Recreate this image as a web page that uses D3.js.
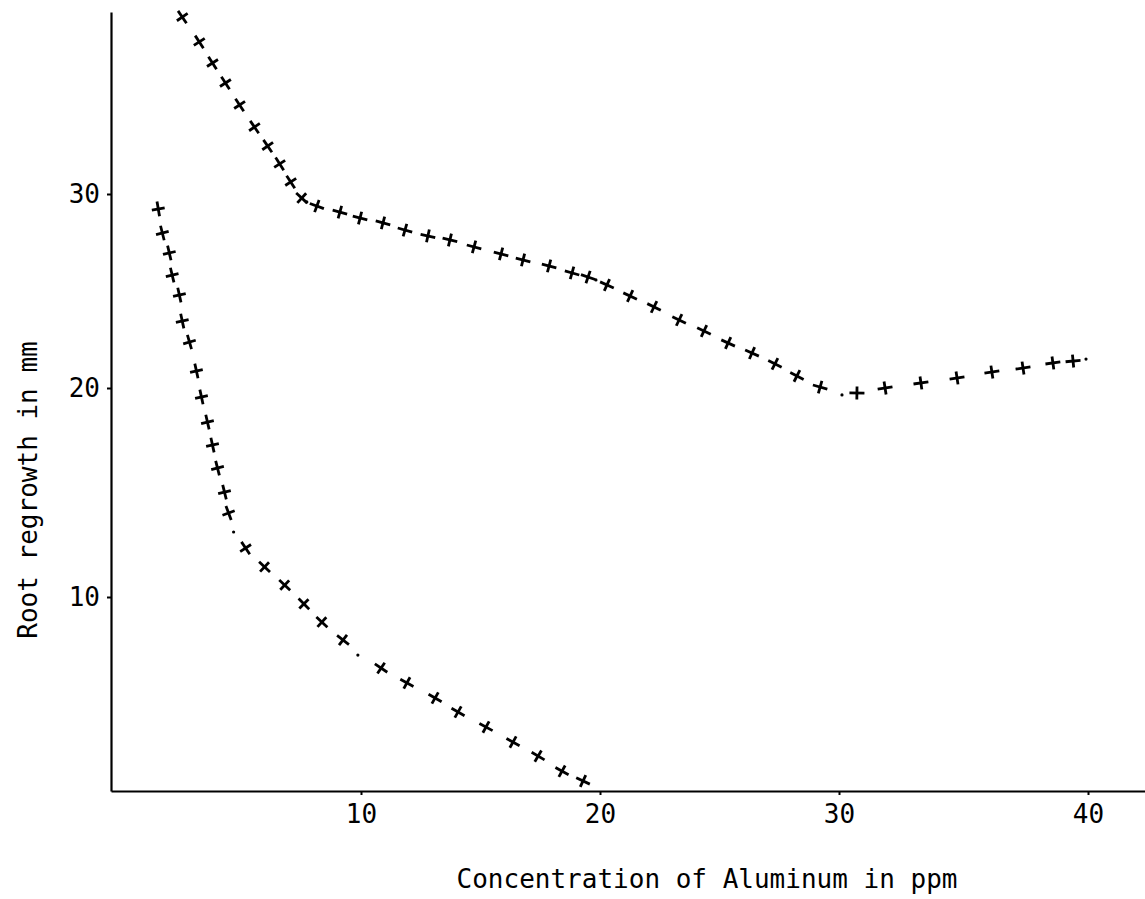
<!DOCTYPE html>
<html>
<head>
<meta charset="utf-8">
<script src="https://cdn.jsdelivr.net/npm/d3@7"></script>
<style>
  html, body { margin: 0; padding: 0; background: #fff; }
  svg { display: block; }
  text { font-family: "DejaVu Sans Mono", monospace; fill: #000; }
</style>
</head>
<body>
<svg id="chart" width="1145" height="899"></svg>
<script>
// ---- data ----
const xTicks = [10, 20, 30, 40];
const yTicks = [10, 20, 30];
const xTitle = "Concentration of Aluminum in ppm";
const yTitle = "Root regrowth in mm";

// upper curve
const upperX = [2.55, 3.26, 3.81, 4.35, 4.94, 5.56, 6.11, 6.61, 7.07, 7.53, 8.16, 9.12, 9.96, 10.92, 11.84, 12.80, 13.72, 14.73, 15.86, 16.78, 17.87, 18.83, 19.50, 20.29, 21.26, 22.26, 23.31, 24.35, 25.36, 26.36, 27.32, 28.24, 29.21, 30.72, 31.85, 33.29, 34.74, 36.14, 37.39, 38.59, 39.40];
const upperY = [39.12, 37.84, 36.75, 35.72, 34.59, 33.45, 32.47, 31.55, 30.62, 29.79, 29.38, 29.07, 28.76, 28.51, 28.14, 27.84, 27.63, 27.27, 26.91, 26.60, 26.29, 25.93, 25.72, 25.31, 24.74, 24.18, 23.51, 22.94, 22.32, 21.80, 21.24, 20.62, 20.05, 19.76, 20.00, 20.26, 20.52, 20.82, 21.03, 21.29, 21.39];

// lower curve
const lowerX = [1.55, 1.72, 2.01, 2.13, 2.43, 2.55, 2.85, 3.14, 3.35, 3.60, 3.81, 4.02, 4.31, 4.48, 5.19, 5.98, 6.82, 7.62, 8.37, 9.25, 10.84, 11.92, 13.10, 14.06, 15.23, 16.36, 17.41, 18.41, 19.29];
const lowerY = [29.23, 27.99, 26.96, 25.82, 24.79, 23.45, 22.37, 20.88, 19.57, 18.37, 17.27, 16.17, 15.02, 14.02, 12.34, 11.44, 10.57, 9.67, 8.80, 7.94, 6.60, 5.89, 5.17, 4.50, 3.78, 3.06, 2.39, 1.67, 1.20];

// stray plotter dots between marks
const dotX = [7.74, 19.83, 30.12, 39.92, 4.69, 9.87];
const dotY = [29.59, 25.57, 19.67, 21.49, 13.11, 7.22];

// axis extents (values at the ends of the drawn axis lines)
const xExtent = [-0.42, 42.29];
const yExtent = [0.72, 39.38];

// ---- drawing ----
const svg = d3.select("#chart");

const x = d3.scaleLinear()
  .domain([xExtent[0], 10, 20, 30, 40, xExtent[1]])
  .range([111, 361, 600, 839, 1088, 1145]);
const y = d3.scaleLinear()
  .domain([yExtent[0], 10, 20, 30, yExtent[1]])
  .range([791, 597, 388, 194, 12]);

const xAxis = d3.axisBottom(x).tickValues(xTicks).tickSize(4).tickSizeOuter(0).tickPadding(10).tickFormat(d3.format("d"));
const yAxis = d3.axisLeft(y).tickValues(yTicks).tickSize(4).tickSizeOuter(0).tickPadding(7).tickFormat(d3.format("d"));

const gx = svg.append("g").attr("transform", `translate(0,${y(yExtent[0])})`).call(xAxis);
const gy = svg.append("g").attr("transform", `translate(${x(xExtent[0])},0)`).call(yAxis);

[gx, gy].forEach(g => {
  g.select(".domain").attr("stroke", "#000").attr("stroke-width", 2.2);
  g.selectAll(".tick line").attr("stroke", "#000").attr("stroke-width", 2);
  g.selectAll(".tick text").attr("font-family", "DejaVu Sans Mono, monospace").attr("font-size", 26).attr("fill", "#000");
});

svg.append("text")
  .attr("x", 707).attr("y", 888)
  .attr("text-anchor", "middle")
  .attr("font-size", 26)
  .text(xTitle);

svg.append("text")
  .attr("transform", "translate(37,490) rotate(-90)")
  .attr("text-anchor", "middle")
  .attr("font-size", 26)
  .text(yTitle);

function drawSeries(xs, ys) {
  const pts = xs.map((v, i) => [x(v), y(ys[i])]);
  const g = svg.append("g");
  pts.forEach((p, i) => {
    const a = pts[Math.max(0, i - 1)], b = pts[Math.min(pts.length - 1, i + 1)];
    const ang = Math.atan2(b[1] - a[1], b[0] - a[0]) * 180 / Math.PI;
    const m = g.append("g").attr("transform", `translate(${p[0]},${p[1]}) rotate(${ang})`);
    m.append("line").attr("x1", -7.5).attr("x2", 7.5).attr("y1", 0).attr("y2", 0);
    m.append("line").attr("x1", 0).attr("x2", 0).attr("y1", -6.5).attr("y2", 6.5);
  });
  g.selectAll("line").attr("stroke", "#000").attr("stroke-width", 2.8);
}
drawSeries(upperX, upperY);
drawSeries(lowerX, lowerY);

svg.append("g").selectAll("circle")
  .data(dotX.map((v, i) => [v, dotY[i]]))
  .join("circle")
  .attr("cx", d => x(d[0])).attr("cy", d => y(d[1]))
  .attr("r", 1.6).attr("fill", "#000");
</script>
</body>
</html>
